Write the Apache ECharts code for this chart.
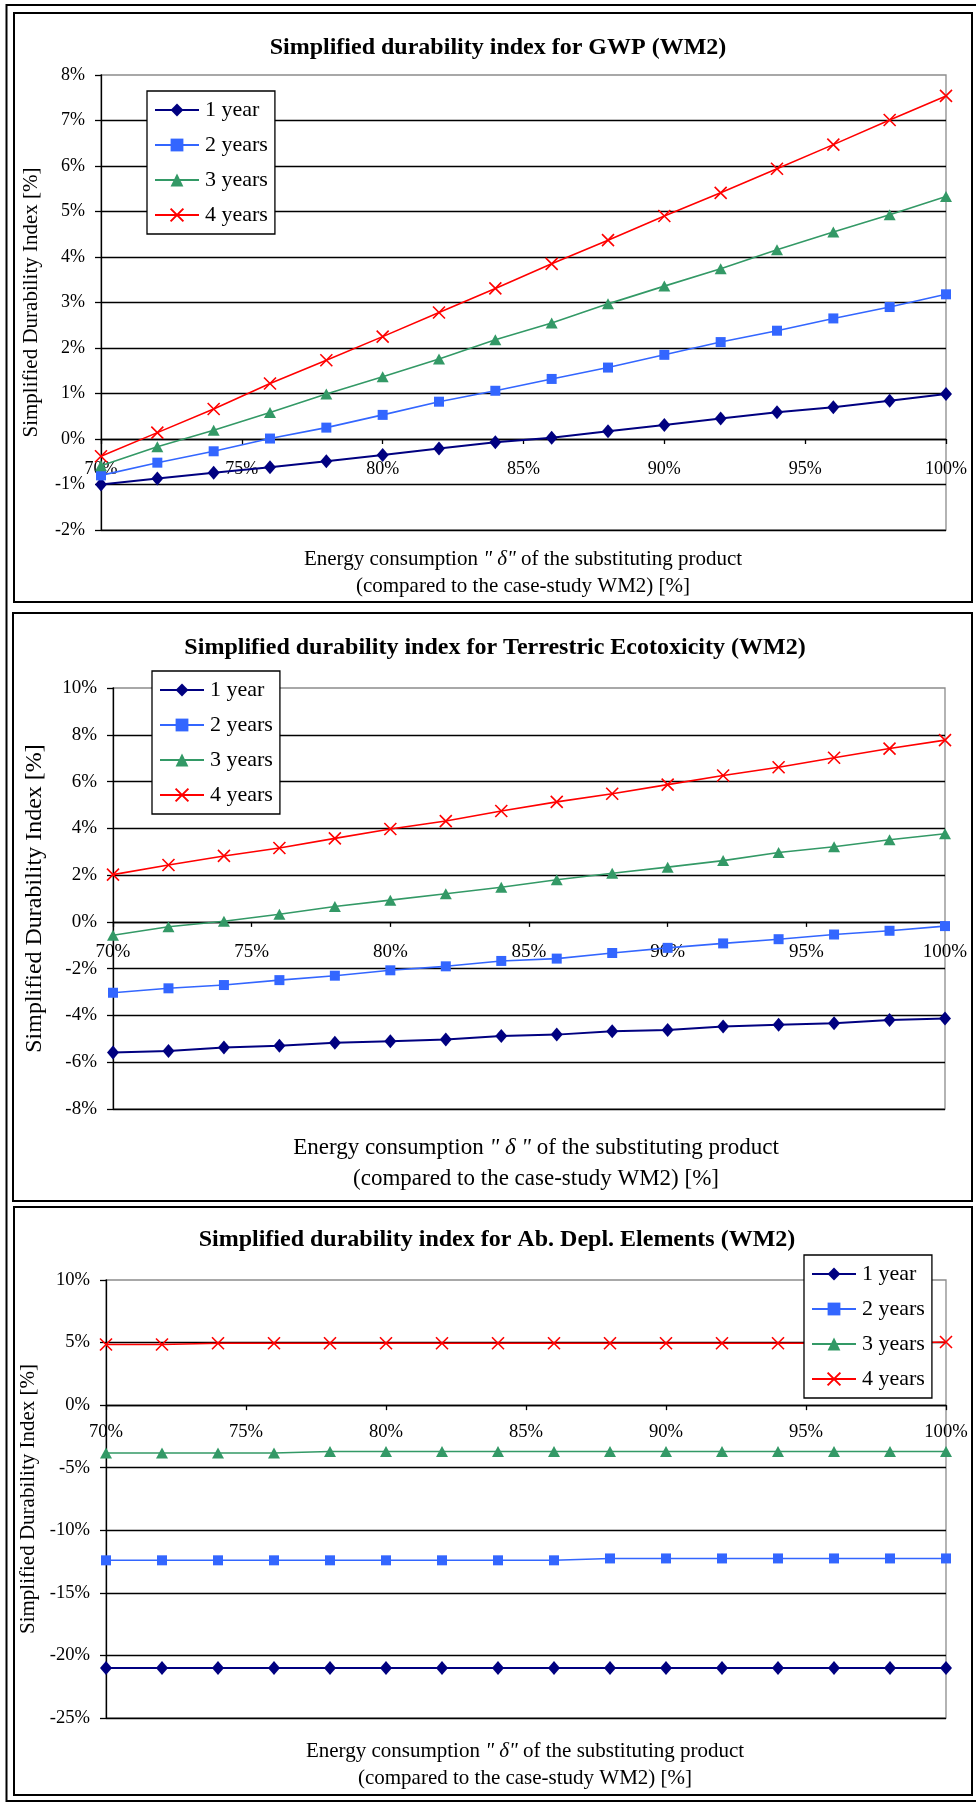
<!DOCTYPE html>
<html>
<head>
<meta charset="utf-8">
<script src="https://cdn.jsdelivr.net/npm/echarts@6/dist/echarts.min.js"></script>
<style>
html,body{margin:0;padding:0;background:#fff;}
#c{width:976px;height:1804px;}
</style>
</head>
<body>
<div id="c"></div>
<script>
// ---------- data ----------
const xValues = [70,72,74,76,78,80,82,84,86,88,90,92,94,96,98,100];
const seriesNames = ['1 year','2 years','3 years','4 years'];

const titles = [
  'Simplified durability index for GWP (WM2)',
  'Simplified durability index for Terrestric Ecotoxicity (WM2)',
  'Simplified durability index for Ab. Depl. Elements (WM2)'
];
const yAxisTitle = 'Simplified Durability Index [%]';

// GWP
const gwp1y = [-1.00,-0.87,-0.74,-0.62,-0.49,-0.35,-0.21,-0.07,0.03,0.17,0.31,0.45,0.59,0.70,0.84,0.99];
const gwp2y = [-0.80,-0.52,-0.27,0.01,0.25,0.53,0.82,1.06,1.32,1.57,1.85,2.13,2.38,2.65,2.90,3.18];
const gwp3y = [-0.59,-0.17,0.19,0.58,0.99,1.37,1.76,2.18,2.55,2.97,3.36,3.74,4.16,4.55,4.93,5.33];
const gwp4y = [-0.38,0.14,0.66,1.22,1.73,2.25,2.78,3.31,3.85,4.37,4.90,5.41,5.94,6.47,7.01,7.54];

// Terrestric Ecotoxicity
const tet1y = [-5.58,-5.52,-5.37,-5.30,-5.17,-5.10,-5.03,-4.88,-4.82,-4.68,-4.62,-4.47,-4.40,-4.33,-4.20,-4.13];
const tet2y = [-3.03,-2.84,-2.70,-2.49,-2.30,-2.07,-1.90,-1.67,-1.57,-1.33,-1.11,-0.92,-0.74,-0.54,-0.38,-0.18];
const tet3y = [-0.57,-0.21,0.03,0.33,0.66,0.93,1.20,1.48,1.80,2.08,2.34,2.62,2.97,3.21,3.51,3.77];
const tet4y = [2.02,2.43,2.82,3.16,3.57,3.97,4.31,4.74,5.13,5.48,5.87,6.26,6.61,7.02,7.41,7.77];

// Ab. Depl. Elements
const ade1y = [-21.0,-21.0,-21.0,-21.0,-21.0,-21.0,-21.0,-21.0,-21.0,-21.0,-21.0,-21.0,-21.0,-21.0,-21.0,-21.0];
const ade2y = [-12.4,-12.4,-12.4,-12.4,-12.4,-12.4,-12.4,-12.4,-12.4,-12.25,-12.25,-12.25,-12.25,-12.25,-12.25,-12.25];
const ade3y = [-3.83,-3.83,-3.83,-3.83,-3.70,-3.70,-3.70,-3.70,-3.70,-3.70,-3.70,-3.70,-3.70,-3.70,-3.70,-3.70];
const ade4y = [4.85,4.85,4.95,4.95,4.95,4.95,4.95,4.95,4.95,4.95,4.95,4.95,4.95,4.95,4.95,5.05];

// axis ranges
const yRanges = [[-2,8,1],[-8,10,2],[-25,10,5]];
const xRange = [70,100,5];

// ---------- styles ----------
const FONT = '"Liberation Serif","Times New Roman",serif';
const colors = ['#000080','#3366FF','#339966','#FF0000'];
const symbols = ['diamond','rect','triangle','path://M0,0L10,10M10,0L0,10'];
const symbolSizes = [[12,14],10,[12,11],12];
const lineWidths = [2,1.6,1.6,1.6];

const layout = [
  {grid:{left:101,top:75,width:845,height:455}, yl:18, xl:18, lblMargin:21, nameGap:59, nameSize:21,
   title:{x:498,y:48}, xt:{x:523,y:559,lh:27,size:21, delta:'" δ"'}, legend:{left:147,top:91},
   legendPad:[8,7,8,7], legendGap:13},
  {grid:{left:113,top:688,width:832,height:421}, yl:19, xl:19, lblMargin:21, nameGap:66, nameSize:24,
   title:{x:495,y:648}, xt:{x:536,y:1148,lh:31,size:23, delta:'" δ "'}, legend:{left:152,top:671},
   legendPad:[8,7,8,7], legendGap:13},
  {grid:{left:106,top:1280,width:840,height:438}, yl:18.6, xl:18.6, lblMargin:17, nameGap:63, nameSize:21,
   title:{x:497,y:1240}, xt:{x:525,y:1751,lh:27,size:21, delta:'" δ"'}, legend:{left:804,top:1255},
   legendPad:[8,7,8,7], legendGap:13}
];

const dataSets = [
  [gwp1y,gwp2y,gwp3y,gwp4y],
  [tet1y,tet2y,tet3y,tet4y],
  [ade1y,ade2y,ade3y,ade4y]
];

const option = {
  backgroundColor:'#fff',
  animation:false,
  title:[], legend:[], grid:[], xAxis:[], yAxis:[], series:[],
  graphic:[
    {type:'rect', shape:{x:6.5,y:5,width:980,height:1796}, style:{fill:'none',stroke:'#000',lineWidth:2}, silent:true},
    {type:'rect', shape:{x:14,y:13,width:958,height:589}, style:{fill:'none',stroke:'#000',lineWidth:2}, silent:true},
    {type:'rect', shape:{x:13,y:613,width:959,height:588}, style:{fill:'none',stroke:'#000',lineWidth:2}, silent:true},
    {type:'rect', shape:{x:14,y:1207,width:958,height:588}, style:{fill:'none',stroke:'#000',lineWidth:2}, silent:true}
  ]
};

layout.forEach((L, gi) => {
  option.grid.push(Object.assign({show:true, borderColor:'#8c8c8c', borderWidth:1.3, backgroundColor:'transparent'}, L.grid));
  option.title.push({
    text: titles[gi], left: L.title.x, top: L.title.y - 13, textAlign:'center', padding:0,
    textStyle:{fontFamily:FONT, fontWeight:'bold', fontSize:24, lineHeight:26, color:'#000'}
  });
  option.title.push({
    text: '{n|Energy consumption }{i|' + L.xt.delta + '}{n| of the substituting product}\n{n|(compared to the case-study WM2) [%]}',
    left: L.xt.x, top: L.xt.y - L.xt.lh/2, textAlign:'center', padding:0,
    textStyle:{fontFamily:FONT, fontWeight:'normal', fontSize:L.xt.size, lineHeight:L.xt.lh, color:'#000',
      rich:{
        n:{fontFamily:FONT, fontSize:L.xt.size, lineHeight:L.xt.lh, color:'#000'},
        i:{fontFamily:FONT, fontStyle:'italic', fontSize:L.xt.size, lineHeight:L.xt.lh, color:'#000'}
      }}
  });
  option.legend.push({
    orient:'vertical', left:L.legend.left, top:L.legend.top,
    data: seriesNames,
    itemWidth:44, itemHeight:16, itemGap:L.legendGap,
    padding:L.legendPad, borderColor:'#000', borderWidth:1.3, backgroundColor:'#fff',
    textStyle:{fontFamily:FONT, fontSize:22, color:'#000', padding:[0,0,0,1]},
    selectedMode:false, z:10
  });
  const [ymin,ymax,yint] = yRanges[gi];
  option.xAxis.push({
    type:'value', gridIndex:gi, min:xRange[0], max:xRange[1], interval:xRange[2],
    position:'bottom', offset:0,
    axisLine:{show:true, onZero:false, lineStyle:{color:'#000', width:1.3}},
    axisTick:{show:true, length:5, lineStyle:{color:'#000', width:1.3}},
    axisLabel:{formatter:'{value}%', fontFamily:FONT, fontSize:L.xl, color:'#000', margin:L.lblMargin},
    splitLine:{show:false}
  });
  option.yAxis.push({
    type:'value', gridIndex:gi, min:ymin, max:ymax, interval:yint,
    name:yAxisTitle, nameLocation:'middle', nameGap:L.nameGap, nameRotate:90,
    nameTextStyle:{fontFamily:FONT, fontSize:L.nameSize, color:'#000'},
    axisLine:{show:true, onZero:false, lineStyle:{color:'#000', width:1.3}},
    axisTick:{show:true, length:6, lineStyle:{color:'#000', width:1.3}},
    axisLabel:{formatter:'{value}%', fontFamily:FONT, fontSize:L.yl, color:'#000', margin:16},
    splitLine:{show:true, showMaxLine:false, lineStyle:{color:'#000', width:1.3}}
  });
  dataSets[gi].forEach((vals, si) => {
    option.series.push({
      type:'line', name:seriesNames[si], xAxisIndex:gi, yAxisIndex:gi,
      data: xValues.map((x,k) => [x, vals[k]]),
      symbol:symbols[si], symbolSize:symbolSizes[si], showSymbol:true,
      itemStyle: si === 3 ? {color:colors[si], borderColor:colors[si], borderWidth:1.6} : {color:colors[si]},
      lineStyle:{color:colors[si], width:lineWidths[si]},
      z:3
    });
  });
});

const chart = echarts.init(document.getElementById('c'), null, {renderer:'canvas'});
chart.setOption(option);

// Move each x axis up so that it crosses the y axis at 0 (as in the original),
// using the library's own scale to find where 0 and the axis minimum are.
const xAxisUpdate = yRanges.map((r, gi) => {
  const zeroPx = chart.convertToPixel({yAxisIndex: gi}, 0);
  const minPx = chart.convertToPixel({yAxisIndex: gi}, r[0]);
  return {offset: -(minPx - zeroPx)};
});
chart.setOption({xAxis: xAxisUpdate});
</script>
</body>
</html>
